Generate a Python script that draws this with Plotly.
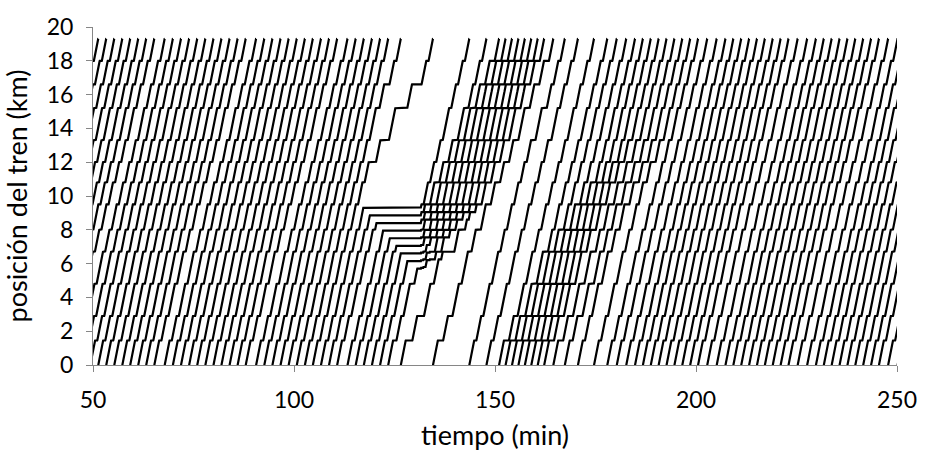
import plotly.graph_objects as go

# --- circular line ---------------------------------------------------------
RING_KM = 19.3                      # km 19.3 and km 0 are the same point
STATIONS_KM = [0.0, 1.45, 2.9, 4.8, 6.7, 8.0, 9.5, 10.8, 12.0, 13.3, 15.2, 16.6, 18.0]

N_TRAINS = 11
RUN_SPEED = 1.2     # km/min between stations
DWELL = 0.5         # min at each station (none at km 0)
SAFE_GAP = 0.45     # km, minimum separation to the train ahead

# blocked train: stopped at FAULT_KM between FAULT_START and FAULT_END
FAULT_KM = 9.3
FAULT_START = 115.5
FAULT_END = 131.5

# even-headway holding (wait for the train behind) is used until BALANCE_UNTIL
BALANCE_UNTIL = 143.0
# headway regulation after the incident: (from time, target headway in min)
REG_FROM = [131.5, 164.0, 176.0]
REG_HEADWAY = [4.3, 2.4, 0.0]        # 0 -> back to the normal headway
MAX_FWD_HOLD = 0.7                   # min, longest wait per station for the gap ahead

T_BEGIN, T_END = 0.0, 252.0
DT = 0.02

n_dwell = sum(1 for s in STATIONS_KM if s > 0)
LOOP_MIN = RING_KM / RUN_SPEED + n_dwell * DWELL
HEADWAY = LOOP_MIN / N_TRAINS


def target_headway(t):
    h = HEADWAY
    for t0, hh in zip(REG_FROM, REG_HEADWAY):
        if t >= t0:
            h = hh if hh > 0 else HEADWAY
    return h


def free_time(from_km, to_km):
    """Unhindered running time from one ring position to another."""
    d = (to_km - from_km) % RING_KM
    stops = sum(1 for s in STATIONS_KM
                if s > 0 and 1e-6 < (s - from_km) % RING_KM < d - 1e-6)
    return d / RUN_SPEED + stops * DWELL


def simulate():
    n = N_TRAINS
    ns = len(STATIONS_KM)
    odo = [0.0] * n                 # distance run since entering (km)
    state = ["wait"] * n
    nxt = [1] * n                   # unwrapped index of the next station
    until = [0.0] * n
    entry = [T_BEGIN + k * HEADWAY for k in range(n)]
    last_dep = {}
    paths = [[] for _ in range(n)]
    fault_train = None

    def station_odo(k):
        lap, s = divmod(k, ns)
        return lap * RING_KM + STATIONS_KM[s]

    t = T_BEGIN
    while t <= T_END:
        for i in range(n):
            lead = (i - 1) % n
            foll = (i + 1) % n
            st = state[i]
            if st == "wait":
                if t >= entry[i]:
                    state[i] = "run"
                    last_dep[0] = t
                    paths[i].append((t, 0.0))
                continue
            if st == "fault":
                if t >= FAULT_END:
                    state[i] = "run"
                paths[i].append((t, odo[i]))
                continue
            if st == "dwell":
                s = (nxt[i] - 1) % ns
                ok = t >= until[i]
                if ok:
                    held = t - until[i]
                    h_ahead = t - last_dep.get(s, -1e9)
                    # keep the target gap to the train ahead (bounded wait)
                    if h_ahead < target_headway(t) - 0.05 and held < MAX_FWD_HOLD:
                        ok = False
                    # even-headway holding against the train behind
                    if ok and t < BALANCE_UNTIL and state[foll] != "wait":
                        h_back = free_time(odo[foll] % RING_KM, STATIONS_KM[s])
                        if h_ahead < h_back:
                            ok = False
                if ok:
                    state[i] = "run"
                    last_dep[s] = t
                paths[i].append((t, odo[i]))
                continue
            # running
            target = station_odo(nxt[i])
            new = min(odo[i] + RUN_SPEED * DT, target)
            if state[lead] != "wait":
                gap = (odo[lead] - odo[i]) % RING_KM
                new = min(new, odo[i] + max(0.0, gap - SAFE_GAP))
            here = odo[i] % RING_KM
            ahead = here + (new - odo[i])
            if (fault_train is None and FAULT_START <= t < FAULT_END
                    and here < FAULT_KM <= ahead):
                fault_train = i
                new = odo[i] + (FAULT_KM - here)
                state[i] = "fault"
            odo[i] = new
            paths[i].append((t + DT, new))
            if state[i] == "run" and new >= target - 1e-9:
                s = nxt[i] % ns
                nxt[i] += 1
                if s == 0:
                    last_dep[0] = t + DT
                else:
                    state[i] = "dwell"
                    until[i] = t + DT + DWELL
        t += DT
    return paths


def to_segments(path):
    """Split an odometer path into laps of the line, dropping collinear points."""
    xs, ys = [], []
    prev_lap = None
    for tt, d in path:
        lap = int((d - 1e-9) // RING_KM) if d > 0 else 0
        y = d - lap * RING_KM
        if prev_lap is not None and lap != prev_lap:
            xs += [tt, None, tt]
            ys += [RING_KM, None, 0.0]
        xs.append(tt)
        ys.append(y)
        prev_lap = lap
    ox, oy = [], []
    for k in range(len(xs)):
        if (0 < k < len(xs) - 1 and None not in (xs[k - 1], xs[k], xs[k + 1])
                and ox and ox[-1] is not None):
            x0, y0 = ox[-1], oy[-1]
            v1 = (ys[k] - y0) / max(xs[k] - x0, 1e-9)
            v2 = (ys[k + 1] - ys[k]) / max(xs[k + 1] - xs[k], 1e-9)
            if abs(v1 - v2) < 1e-6:
                continue
        ox.append(xs[k])
        oy.append(ys[k])
    return ox, oy


xs, ys = [], []
for path in simulate():
    px, py = to_segments(path)
    xs += px + [None]
    ys += py + [None]

fig = go.Figure(go.Scatter(x=xs, y=ys, mode="lines",
                           line=dict(color="black", width=2.2),
                           hoverinfo="skip", showlegend=False))

axis_font = dict(family="Lato, Arial, sans-serif", size=23, color="black")
title_font = dict(family="Lato, Arial, sans-serif", size=27, color="black")

fig.update_layout(
    width=929, height=457,
    margin=dict(l=93, r=22, t=17, b=90),
    paper_bgcolor="white", plot_bgcolor="white",
    xaxis=dict(range=[50, 250], tickvals=[50, 100, 150, 200, 250],
               showline=True, linecolor="#868686", linewidth=1,
               ticks="outside", ticklen=6, tickcolor="#868686",
               ticklabelstandoff=8,
               showgrid=False, zeroline=False, tickfont=axis_font,
               title=dict(text="tiempo (min)", font=title_font, standoff=14)),
    yaxis=dict(range=[0, 20], tickvals=list(range(0, 21, 2)),
               showline=True, linecolor="#868686", linewidth=1,
               ticks="outside", ticklen=6, tickcolor="#868686",
               ticklabelstandoff=8,
               showgrid=False, zeroline=False, tickfont=axis_font,
               title=dict(text="posición del tren (km)", font=title_font, standoff=16)),
)

fig.write_html("out.html")
